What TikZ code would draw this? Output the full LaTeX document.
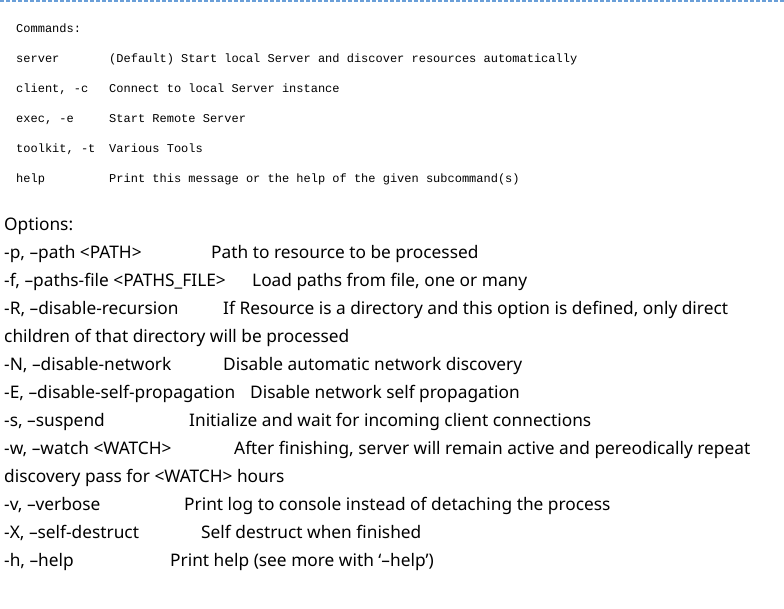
\documentclass[tikz,border=0pt]{standalone}
\usepackage{fontspec}
\setmainfont{Noto Sans}
\newfontfamily\monofont{Liberation Mono}
\usetikzlibrary{positioning}
\definecolor{rulecol}{HTML}{6A9FD8}

\begin{document}
\begin{tikzpicture}[x=1pt,y=-1pt,
  every node/.style={inner sep=0pt,anchor=base west},
  mono/.style={font=\monofont\fontsize{12}{14}\selectfont},
  txt/.style={font=\fontsize{17.3}{21}\selectfont}]
\useasboundingbox (0,0) rectangle (784,608);

\coordinate (tl) at (0,1);
\coordinate (tr) at (784,1);
\draw[rulecol,line width=1.2pt,dash pattern=on 4pt off 2pt] (tl)--(tr);

% commands
\node (c0) [mono] at (16,32) {Commands:};
\node (c1) [mono] at (16,62) {server};
\node (c2) [mono] at (16,92) {client, -c};
\node (c3) [mono] at (16,122) {exec, -e};
\node (c4) [mono] at (16,152) {toolkit, -t};
\node (c5) [mono] at (16,182) {help};
\node (d1) [mono] at (109,62) {(Default) Start local Server and discover resources automatically};
\node (d2) [mono] at (109,92) {Connect to local Server instance};
\node (d3) [mono] at (109,122) {Start Remote Server};
\node (d4) [mono] at (109,152) {Various Tools};
\node (d5) [mono] at (109,182) {Print this message or the help of the given subcommand(s)};

% options
\node (o0) [txt] at (4,230) {Options:};
\node (o1) [txt] at (4,258) {-p, –path <PATH>};
\node (o2) [txt] at (4,286) {-f, –paths-file <PATHS\_FILE>};
\node (o3) [txt] at (4,314) {-R, –disable-recursion};
\node (o4) [txt] at (4,370) {-N, –disable-network};
\node (o5) [txt] at (4,398) {-E, –disable-self-propagation};
\node (o6) [txt] at (4,426) {-s, –suspend};
\node (o7) [txt] at (4,454) {-w, –watch <WATCH>};
\node (o8) [txt] at (4,510) {-v, –verbose};
\node (o9) [txt] at (4,538) {-X, –self-destruct};
\node (o10) [txt] at (4,566) {-h, –help};

\node (e1) [txt] at (211,258) {Path to resource to be processed};
\node (e2) [txt] at (252,286) {Load paths from file, one or many};
\node (e3) [txt] at (223,314) {If Resource is a directory and this option is defined, only direct};
\node (e3b) [txt] at (4,342) {children of that directory will be processed};
\node (e4) [txt] at (223,370) {Disable automatic network discovery};
\node (e5) [txt] at (250,398) {Disable network self propagation};
\node (e6) [txt] at (189,426) {Initialize and wait for incoming client connections};
\node (e7) [txt] at (234,454) {After finishing, server will remain active and pereodically repeat};
\node (e7b) [txt] at (4,482) {discovery pass for <WATCH> hours};
\node (e8) [txt] at (184,510) {Print log to console instead of detaching the process};
\node (e9) [txt] at (201,538) {Self destruct when finished};
\node (e10) [txt] at (170,566) {Print help (see more with ‘–help’)};
\end{tikzpicture}
\end{document}
